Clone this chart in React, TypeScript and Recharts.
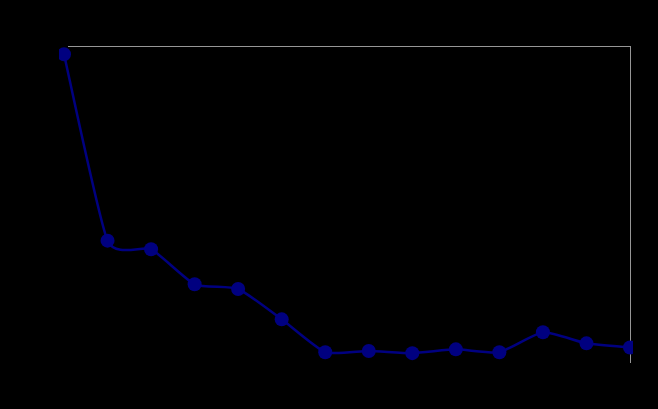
import { LineChart, Line, XAxis, YAxis } from "recharts";

// categories (unlabelled in the source picture) and the single series
const categories = ["1", "2", "3", "4", "5", "6", "7", "8", "9", "10", "11", "12", "13", "14"];
const values = [97.4, 38.4, 35.7, 24.6, 23.1, 13.5, 3.1, 3.5, 2.8, 4.0, 3.1, 9.4, 5.9, 4.6];
const yDomain = [0, 100];

const data = categories.map((c, i) => ({ name: c, value: values[i] }));

// Excel-like smoothed line: cardinal spline with some tension
function smoothCurve(ctx: any) {
  let pts: [number, number][] = [];
  const k = 0.09;
  return {
    areaStart() {},
    areaEnd() {},
    lineStart() {
      pts = [];
    },
    point(x: number, y: number) {
      pts.push([+x, +y]);
    },
    lineEnd() {
      if (!pts.length) return;
      ctx.moveTo(pts[0][0], pts[0][1]);
      for (let i = 0; i < pts.length - 1; i++) {
        const p0 = pts[i - 1] || pts[i];
        const p1 = pts[i];
        const p2 = pts[i + 1];
        const p3 = pts[i + 2] || p2;
        ctx.bezierCurveTo(
          p1[0] + k * (p2[0] - p0[0]),
          p1[1] + k * (p2[1] - p0[1]),
          p2[0] - k * (p3[0] - p1[0]),
          p2[1] - k * (p3[1] - p1[1]),
          p2[0],
          p2[1]
        );
      }
    },
  };
}

const Marker = (props: any) => {
  const { cx, cy, index } = props;
  if (cx == null || cy == null) return null;
  return <circle key={index} cx={cx} cy={cy} r={7} fill="#000080" clipPath="url(#plotClip)" />;
};

export default function App() {
  return (
    <div style={{ position: "absolute", left: 0, top: 0, width: 658, height: 409, background: "#000", overflow: "hidden" }}>
      {/* plot frame: only top and right edges show */}
      <div
        style={{
          position: "absolute",
          left: 68,
          top: 46,
          width: 562,
          height: 316,
          borderTop: "1px solid #969696",
          borderRight: "1px solid #969696",
        }}
      />
      <div style={{ position: "absolute", left: 0, top: 0 }}>
        <LineChart width={658} height={409} data={data} margin={{ top: 46, right: 25, bottom: 47, left: 59 }}>
          <defs>
            <clipPath id="plotClip">
              <rect x={59} y={0} width={574} height={409} />
            </clipPath>
          </defs>
          <XAxis dataKey="name" hide padding={{ left: 5, right: 3 }} />
          <YAxis hide domain={yDomain} />
          <Line
            dataKey="value"
            type={smoothCurve as any}
            stroke="#000080"
            strokeWidth={2.5}
            dot={Marker}
            activeDot={false}
            isAnimationActive={false}
          />
        </LineChart>
      </div>
    </div>
  );
}
